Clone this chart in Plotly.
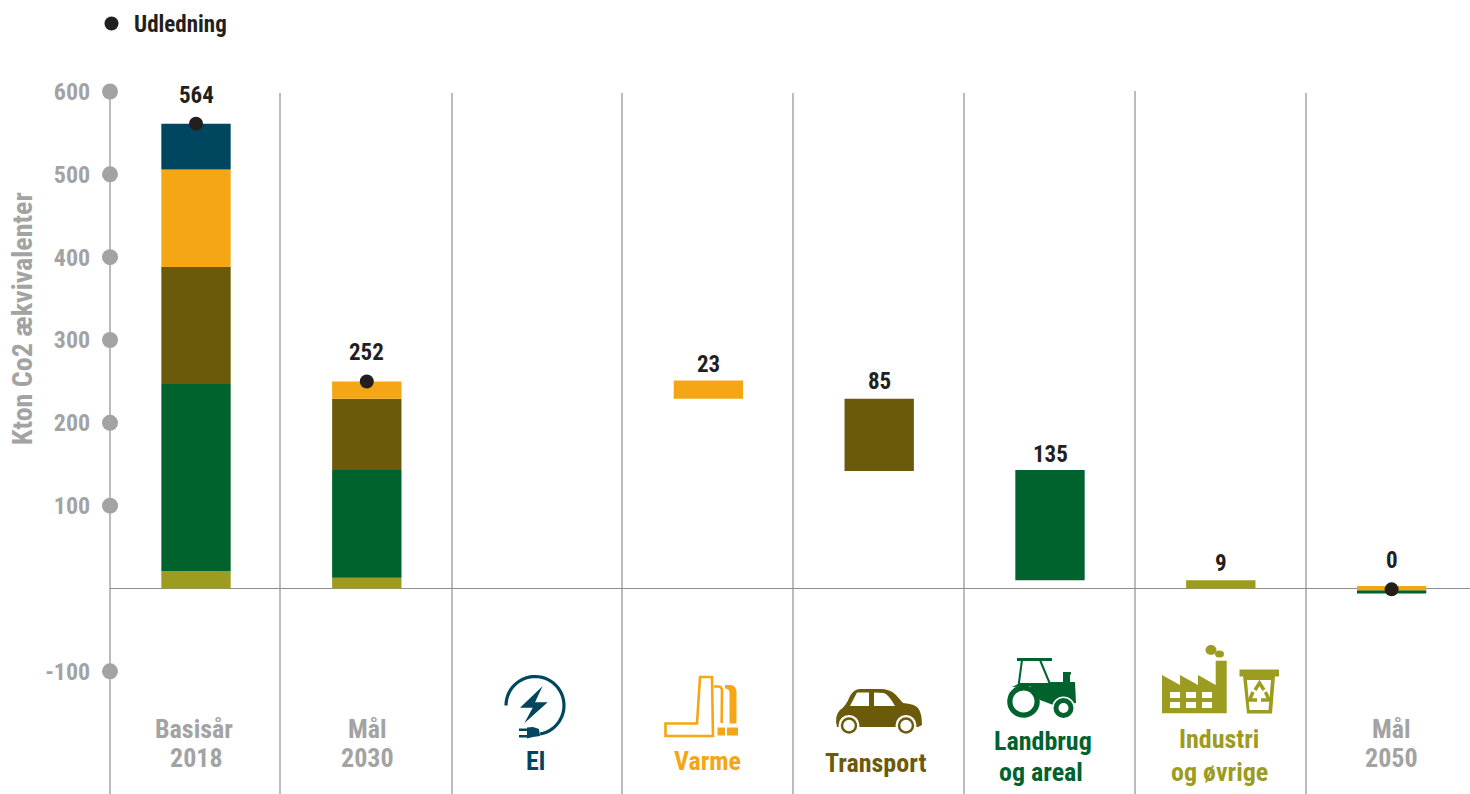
import re
import math
import plotly.graph_objects as go

W, H = 1470, 794
FONT = "Roboto Condensed, Roboto, sans-serif"
GRAY = "#a3a3a3"
LINE = "#8f8f8f"
DOT = "#231f20"
NAVY = "#00465f"
ORANGE = "#f5a615"
BROWN = "#6b5a0a"
GREEN = "#00622d"
OLIVE = "#9c9c20"

# ---- data ----
categories = ["Basisår 2018", "Mål 2030", "El", "Varme", "Transport",
              "Landbrug og areal", "Industri og øvrige", "Mål 2050"]
olive_values = [21, 13, None, None, None, None, 10, None]
olive_base = [0, 0, None, None, None, None, 0, None]
green_values = [226, 130, None, None, None, 133, None, 4]
green_base = [21, 13, None, None, None, 10, None, -6]
brown_values = [141, 86, None, None, 87, None, None, None]
brown_base = [247, 143, None, None, 142, None, None, None]
orange_values = [118, 21, None, 22, None, None, None, 5]
orange_base = [388, 229, None, 229, None, None, None, -2]
navy_values = [55, None, None, None, None, None, None, None]
navy_base = [506, None, None, None, None, None, None, None]
emission_values = [561, 250, None, None, None, None, None, -1]
value_labels = ["564", "252", "", "23", "85", "135", "9", "0"]
label_anchor = [560, 250, None, 251, 229, 143, 10, 3]
label_shift = [29, 29, 0, 16, 17, 16, 17, 26]
y_ticks = [600, 500, 400, 300, 200, 100, -100]
y_title = "Kton Co2 ækvivalenter"
bottom_labels = [
    ("Basisår", 194, 729, GRAY), ("2018", 196, 758, GRAY),
    ("Mål", 367, 729, GRAY), ("2030", 367, 758, GRAY),
    ("El", 535, 761, NAVY),
    ("Varme", 707, 761, ORANGE),
    ("Transport", 875, 763, BROWN),
    ("Landbrug", 1043, 741, GREEN), ("og areal", 1041, 772, GREEN),
    ("Industri", 1219, 739, OLIVE), ("og øvrige", 1219, 772, OLIVE),
    ("Mål", 1391, 729, GRAY), ("2050", 1391, 758, GRAY),
]

# ---- pixel geometry of the frame ----
X0, DX = 196.0, 170.8
Y0, SY = 588.5, 0.8283
AX_L = 110
x_range = [(AX_L - X0) / DX, (W - X0) / DX]
y_range = [(Y0 - H) / SY, Y0 / SY]
x_pos = list(range(len(categories)))


def fx(px):
    return px / W


def fy(py):
    return 1 - py / H


def P(path):
    """Pixel-space SVG path -> paper-space SVG path."""
    out, is_x = [], True
    for tok in re.findall(r"[MLQCZ]|-?\d+\.?\d*", path):
        if tok in "MLQCZ":
            out.append(tok)
            is_x = True
        else:
            v = float(tok)
            out.append(f"{fx(v) if is_x else fy(v):.5f}")
            is_x = not is_x
    return " ".join(out)


shapes = []


def fill(path, color, **kw):
    shapes.append(dict(type="path", path=P(path), xref="paper", yref="paper",
                       fillcolor=color, line=dict(width=0), layer="above", **kw))


def stroke(path, color, w):
    shapes.append(dict(type="path", path=P(path), xref="paper", yref="paper",
                       fillcolor="rgba(0,0,0,0)", line=dict(color=color, width=w), layer="above"))


def circle(cx, cy, r, color):
    shapes.append(dict(type="circle", xref="paper", yref="paper",
                       x0=fx(cx - r), x1=fx(cx + r), y0=fy(cy + r), y1=fy(cy - r),
                       fillcolor=color, line=dict(width=0), layer="above"))


def ellipse(cx, cy, rx, ry, color):
    shapes.append(dict(type="circle", xref="paper", yref="paper",
                       x0=fx(cx - rx), x1=fx(cx + rx), y0=fy(cy + ry), y1=fy(cy - ry),
                       fillcolor=color, line=dict(width=0), layer="above"))


def rect(x0, y0, x1, y1, color):
    fill(f"M{x0} {y0} L{x1} {y0} L{x1} {y1} L{x0} {y1} Z", color)


def arc(cx, cy, r, a0, a1, n=40):
    pts = []
    for i in range(n + 1):
        a = math.radians(a0 + (a1 - a0) * i / n)
        pts.append(f"{cx + r * math.cos(a):.2f} {cy + r * math.sin(a):.2f}")
    return "M" + " L".join(pts)


# separators
for px, top in [(AX_L, 91), (280, 93), (452, 93), (622, 93), (793, 93), (964, 93), (1135, 91), (1306, 93)]:
    shapes.append(dict(type="line", xref="paper", yref="paper", x0=fx(px), x1=fx(px),
                       y0=fy(top), y1=0, line=dict(color=LINE, width=1.2), layer="below"))

# El icon
stroke(arc(535, 705.5, 29, 180, 440), NAVY, 3.2)
fill("M542.7 686 L520 707.7 L532.7 707.7 L524.3 723.3 L547.7 702.3 L535 702.3 Z", NAVY)
fill("M527 727.5 L533 727 L539 729 L540 736 L533 737 L527 738.5 Z", NAVY)
rect(519, 728.5, 527, 731, NAVY)
rect(519, 735, 527, 737.5, NAVY)

# Varme icon
stroke("M700 677 L712 677 L713 736 L665.5 736 L665.5 723.5 L697 723.5 Z", ORANGE, 2.6)
stroke("M714 686.5 L718 686.5 Q722 686.5 722 691 L721.7 723", ORANGE, 2.6)
fill("M725 685 L730 685 Q736.5 685 736.5 693 L736.5 723.5 L729.5 723.5 L729.5 692 Q729 688.5 725 688.5 Z", ORANGE)
rect(717.5, 727.5, 725, 735.5, ORANGE)
rect(727, 727.5, 738, 735.5, ORANGE)

# Transport icon
fill("M837 727 Q834 716 840 710 Q846 706 850 696 Q854 689 860 689 L880 689 Q890 689 896 695 "
     "L903 703 Q915 704 918 708 Q922 713 922 725 L918 727 Z", BROWN)
fill("M850 706 L857 692.5 L869 692.5 L869 706 Z", "white")
fill("M874 692.5 L884 693 Q889 695 895 706 L874 706 Z", "white")
for cx in (849, 906):
    circle(cx, 725.5, 10.5, "white")
    circle(cx, 725.5, 8.2, BROWN)
    circle(cx, 725.5, 5.7, "white")

# Landbrug icon
rect(1017, 658, 1052, 661, GREEN)
stroke("M1022 660 L1018.5 686", GREEN, 2)
stroke("M1040 660 L1050 684", GREEN, 2)
fill("M1012 687 L1020 683 L1047 683 L1051 682 L1075 682 L1076 703 L1056 706 L1040 700 L1030 686 Z", GREEN)
rect(1063, 672, 1070, 684, GREEN)
rect(1063, 672, 1071, 674.5, GREEN)
circle(1023.5, 701.5, 16.3, GREEN)
circle(1023.5, 701.5, 11, "white")
circle(1063.5, 708, 11.5, "white")
circle(1063.5, 708, 10, GREEN)
circle(1063.5, 708, 5, "white")

# Industri icon
fill("M1162 675 L1180 685 L1180 675 L1198 685 L1198 675 L1215.7 685 L1215.7 660.7 L1226.7 660.7 "
     "L1226.7 713.3 L1162 713.3 Z", OLIVE)
for x in (1170, 1186, 1202):
    for y in (692, 702):
        rect(x, y, x + 10, y + 6, "white")
ellipse(1211, 650, 5.5, 5, OLIVE)
ellipse(1219.5, 654, 4.5, 3.5, OLIVE)
rect(1239.5, 669.5, 1279, 676.5, OLIVE)
fill("M1243 676 L1275 676 L1272 713.5 L1247 713.5 Z", OLIVE)
fill("M1247 680 L1271 680 L1268.5 710 L1249.5 710 Z", "white")
stroke("M1255 690 L1259.5 683 L1264 690", OLIVE, 3.4)
stroke("M1265.5 692 L1269 700 L1261 700", OLIVE, 3.4)
stroke("M1257 700 L1249.5 700 L1253 692", OLIVE, 3.4)

fig = go.Figure()
for name, vals, base, color in [
    ("Industri", olive_values, olive_base, OLIVE),
    ("Landbrug", green_values, green_base, GREEN),
    ("Transport", brown_values, brown_base, BROWN),
    ("Varme", orange_values, orange_base, ORANGE),
    ("El", navy_values, navy_base, NAVY),
]:
    fig.add_trace(go.Bar(x=x_pos, y=vals, base=base, width=0.406, name=name,
                         marker=dict(color=color, line=dict(width=0)), showlegend=False))

fig.add_trace(go.Scatter(x=[x_range[0]] * len(y_ticks), y=y_ticks, mode="markers", cliponaxis=False,
                         marker=dict(size=16, color="#a3a3a3"), showlegend=False, hoverinfo="skip"))
fig.add_trace(go.Scatter(x=x_pos, y=emission_values, mode="markers", name="Udledning", cliponaxis=False,
                         marker=dict(size=14, color=DOT)))

annotations = []
for x, y, label, shift in zip(x_pos, label_anchor, value_labels, label_shift):
    if label:
        annotations.append(dict(x=x, y=y, text=label, showarrow=False, yshift=shift,
                                xanchor="center", yanchor="middle",
                                font=dict(family=FONT, size=23, color=DOT, weight="bold")))
for text, px, py, color in bottom_labels:
    annotations.append(dict(x=fx(px), y=fy(py), xref="paper", yref="paper", text=text, showarrow=False,
                            xanchor="center", yanchor="middle",
                            font=dict(family=FONT, size=26, color=color, weight="bold")))
annotations.append(dict(x=fx(22), y=fy(319), xref="paper", yref="paper", text=y_title, showarrow=False,
                        textangle=-90, xanchor="center", yanchor="middle",
                        font=dict(family=FONT, size=28, color=GRAY, weight="bold")))

fig.update_layout(
    width=W, height=H, margin=dict(l=0, r=0, t=0, b=0), autosize=False,
    paper_bgcolor="white", plot_bgcolor="white", barmode="overlay",
    showlegend=True,
    legend=dict(x=fx(89), y=fy(2), xanchor="left", yanchor="top", bgcolor="rgba(0,0,0,0)",
                itemwidth=35,
                font=dict(family=FONT, size=23, color=DOT, weight="bold")),
    xaxis=dict(domain=[fx(AX_L), 1], range=x_range, visible=False),
    yaxis=dict(range=y_range, tickmode="array", tickvals=y_ticks, ticktext=[str(v) for v in y_ticks],
               showgrid=False, showline=False, zeroline=True, zerolinecolor=LINE, zerolinewidth=1,
               ticks="outside", ticklen=14, tickcolor="rgba(0,0,0,0)",
               tickfont=dict(family=FONT, size=24, color=GRAY, weight="bold")),
    shapes=shapes, annotations=annotations,
)
fig.write_html("out.html", config=dict(displayModeBar=False),
               post_script="document.body.style.margin='0';document.body.style.overflow='hidden';")
